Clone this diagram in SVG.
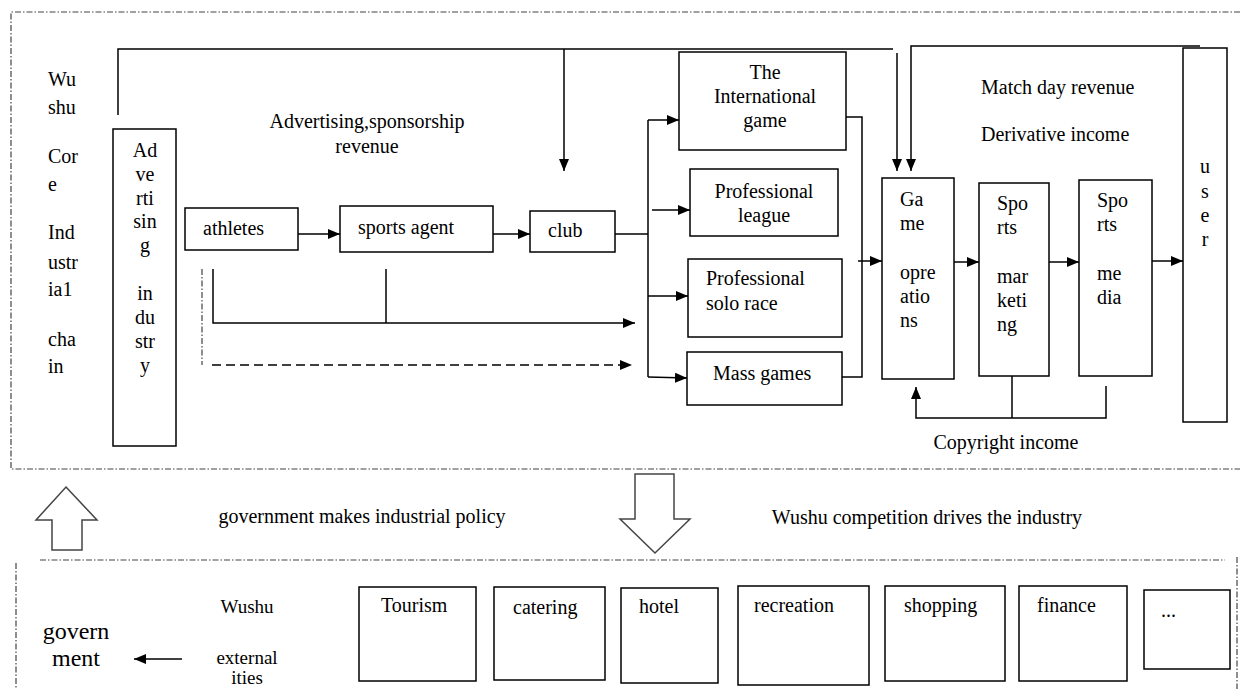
<svg xmlns="http://www.w3.org/2000/svg" width="1240" height="689" viewBox="0 0 1240 689">
<style>
.t{font-family:"Liberation Serif","Times New Roman",serif;font-size:20px;fill:#000}
.c{text-anchor:middle}
.big{font-size:24px}
.sm{font-size:19px}
.box{fill:#fff;stroke:#000;stroke-width:1.5}
.ln{fill:none;stroke:#000;stroke-width:1.5}
.dd{fill:none;stroke:#444;stroke-width:1.2;stroke-dasharray:6 2 1.5 2}
.dash{fill:none;stroke:#000;stroke-width:1.5;stroke-dasharray:9 5}
.bigarrow{fill:#fff;stroke:#444;stroke-width:1.5}
</style>
<defs>
<marker id="ah" viewBox="0 0 12 10" refX="12" refY="5" markerWidth="12" markerHeight="10" markerUnits="userSpaceOnUse" orient="auto">
<path d="M0,0 L12,5 L0,10 z" fill="#000"/>
</marker>
</defs>
<rect width="1240" height="689" fill="#fff"/>

<g id="frames">
<path class="dd" d="M1240,12 H11 V469 H1240"/>
<path class="dd" d="M40,560 H1225"/>
<path class="dd" d="M16,563 V689"/>
<path class="dd" d="M1237,557 V689"/>
</g>

<g id="left-label">
<text class="t" x="48" y="86">Wu</text>
<text class="t" x="48" y="114">shu</text>
<text class="t" x="48" y="163">Cor</text>
<text class="t" x="48" y="191">e</text>
<text class="t" x="48" y="239">Ind</text>
<text class="t" x="48" y="269">ustr</text>
<text class="t" x="48" y="296">ia1</text>
<text class="t" x="48" y="346">cha</text>
<text class="t" x="48" y="373">in</text>
</g>

<g id="ad-industry">
<rect class="box" x="113" y="129" width="63" height="317"/>
<text class="t c" x="145" y="157">Ad</text>
<text class="t c" x="145" y="181">ve</text>
<text class="t c" x="145" y="205">rti</text>
<text class="t c" x="145" y="228">sin</text>
<text class="t c" x="145" y="252">g</text>
<text class="t c" x="145" y="300">in</text>
<text class="t c" x="145" y="324">du</text>
<text class="t c" x="145" y="348">str</text>
<text class="t c" x="145" y="372">y</text>
</g>

<g id="ad-label">
<text class="t c" x="367" y="128">Advertising,sponsorship</text>
<text class="t c" x="367" y="153">revenue</text>
</g>

<g id="athletes">
<rect class="box" x="185" y="208" width="113" height="42"/>
<text class="t" x="203" y="235">athletes</text>
</g>
<g id="sports-agent">
<rect class="box" x="340" y="206" width="153" height="46"/>
<text class="t" x="358" y="234">sports agent</text>
</g>
<g id="club">
<rect class="box" x="530" y="211" width="85" height="41"/>
<text class="t" x="548" y="237">club</text>
</g>

<g id="intl-game">
<rect class="box" x="679" y="52" width="167" height="98"/>
<text class="t c" x="765" y="79">The</text>
<text class="t c" x="765" y="103">International</text>
<text class="t c" x="765" y="127">game</text>
</g>
<g id="pro-league">
<rect class="box" x="690" y="169" width="148" height="67"/>
<text class="t c" x="764" y="198">Professional</text>
<text class="t c" x="764" y="222">league</text>
</g>
<g id="solo-race">
<rect class="box" x="688" y="259" width="154" height="78"/>
<text class="t" x="706" y="285">Professional</text>
<text class="t" x="706" y="310">solo race</text>
</g>
<g id="mass-games">
<rect class="box" x="687" y="352" width="155" height="53"/>
<text class="t" x="713" y="380">Mass games</text>
</g>

<g id="game-ops">
<rect class="box" x="882" y="178" width="72" height="201"/>
<text class="t" x="900" y="206">Ga</text>
<text class="t" x="900" y="230">me</text>
<text class="t" x="900" y="279">opre</text>
<text class="t" x="900" y="303">atio</text>
<text class="t" x="900" y="327">ns</text>
</g>
<g id="sports-marketing">
<rect class="box" x="979" y="183" width="70" height="193"/>
<text class="t" x="997" y="210">Spo</text>
<text class="t" x="997" y="234">rts</text>
<text class="t" x="997" y="283">mar</text>
<text class="t" x="997" y="307">keti</text>
<text class="t" x="997" y="331">ng</text>
</g>
<g id="sports-media">
<rect class="box" x="1079" y="180" width="73" height="196"/>
<text class="t" x="1097" y="207">Spo</text>
<text class="t" x="1097" y="231">rts</text>
<text class="t" x="1097" y="280">me</text>
<text class="t" x="1097" y="304">dia</text>
</g>
<g id="user">
<rect class="box" x="1183" y="48" width="44" height="374"/>
<text class="t c" x="1205" y="173">u</text>
<text class="t c" x="1205" y="198">s</text>
<text class="t c" x="1205" y="222">e</text>
<text class="t c" x="1205" y="246">r</text>
</g>

<g id="revenue-labels">
<text class="t" x="981" y="94">Match day revenue</text>
<text class="t" x="981" y="141">Derivative  income</text>
<text class="t c" x="1006" y="449">Copyright income</text>
</g>

<g id="connectors">
<path class="ln" d="M118,115 V49 H893"/>
<path class="ln" d="M897,53 V171" marker-end="url(#ah)"/>
<path class="ln" d="M564,49 V171" marker-end="url(#ah)"/>
<path class="ln" d="M1200,46 H911 V171" marker-end="url(#ah)"/>
<path class="ln" d="M298,234 H340" marker-end="url(#ah)"/>
<path class="ln" d="M493,234 H530" marker-end="url(#ah)"/>
<path class="ln" d="M615,234 H648"/>
<path class="ln" d="M648,120 V377"/>
<path class="ln" d="M648,120 H679" marker-end="url(#ah)"/>
<path class="ln" d="M652,210 H690" marker-end="url(#ah)"/>
<path class="ln" d="M648,296 H688" marker-end="url(#ah)"/>
<path class="ln" d="M648,377 L687,378" marker-end="url(#ah)"/>
<path class="ln" d="M213,269 V323 H635" marker-end="url(#ah)"/>
<path class="ln" d="M386,269 V323"/>
<path class="dd" d="M202,269 V365"/>
<path class="dash" d="M212,365 H632" marker-end="url(#ah)"/>
<path class="ln" d="M846,117 H862 V377 H842"/>
<path class="ln" d="M858,261 H882" marker-end="url(#ah)"/>
<path class="ln" d="M954,262 H979" marker-end="url(#ah)"/>
<path class="ln" d="M1049,262 H1079" marker-end="url(#ah)"/>
<path class="ln" d="M1152,261 H1183" marker-end="url(#ah)"/>
<path class="ln" d="M1106,386 V418 H916 V387" marker-end="url(#ah)"/>
<path class="ln" d="M1012,376 V418"/>
<path class="ln" d="M182,659 H134" marker-end="url(#ah)"/>
</g>

<g id="policy-arrows">
<path class="bigarrow" d="M66,487 L97,520 L82,520 L82,550 L52,550 L52,520 L36,520 Z"/>
<text class="t c" x="362" y="523">government makes industrial policy</text>
<path class="bigarrow" d="M635,474 L674,474 L674,519 L690,519 L655,553 L620,519 L635,519 Z"/>
<text class="t c" x="927" y="524">Wushu competition  drives  the industry</text>
</g>

<g id="government">
<text class="t c big" x="76" y="639">govern</text>
<text class="t c big" x="76" y="666">ment</text>
</g>
<g id="externalities">
<text class="t c sm" x="247" y="613">Wushu</text>
<text class="t c sm" x="247" y="664">external</text>
<text class="t c sm" x="247" y="684">ities</text>
</g>

<g id="tourism"><rect class="box" x="359" y="587" width="117" height="94"/><text class="t" x="381" y="612">Tourism</text></g>
<g id="catering"><rect class="box" x="494" y="587" width="111" height="93"/><text class="t" x="513" y="614">catering</text></g>
<g id="hotel"><rect class="box" x="621" y="588" width="97" height="95"/><text class="t" x="639" y="613">hotel</text></g>
<g id="recreation"><rect class="box" x="738" y="586" width="131" height="99"/><text class="t" x="754" y="612">recreation</text></g>
<g id="shopping"><rect class="box" x="885" y="586" width="120" height="95"/><text class="t" x="904" y="612">shopping</text></g>
<g id="finance"><rect class="box" x="1019" y="586" width="108" height="95"/><text class="t" x="1037" y="612">finance</text></g>
<g id="more"><rect class="box" x="1144" y="590" width="86" height="79"/><text class="t" x="1161" y="617">...</text></g>
</svg>
